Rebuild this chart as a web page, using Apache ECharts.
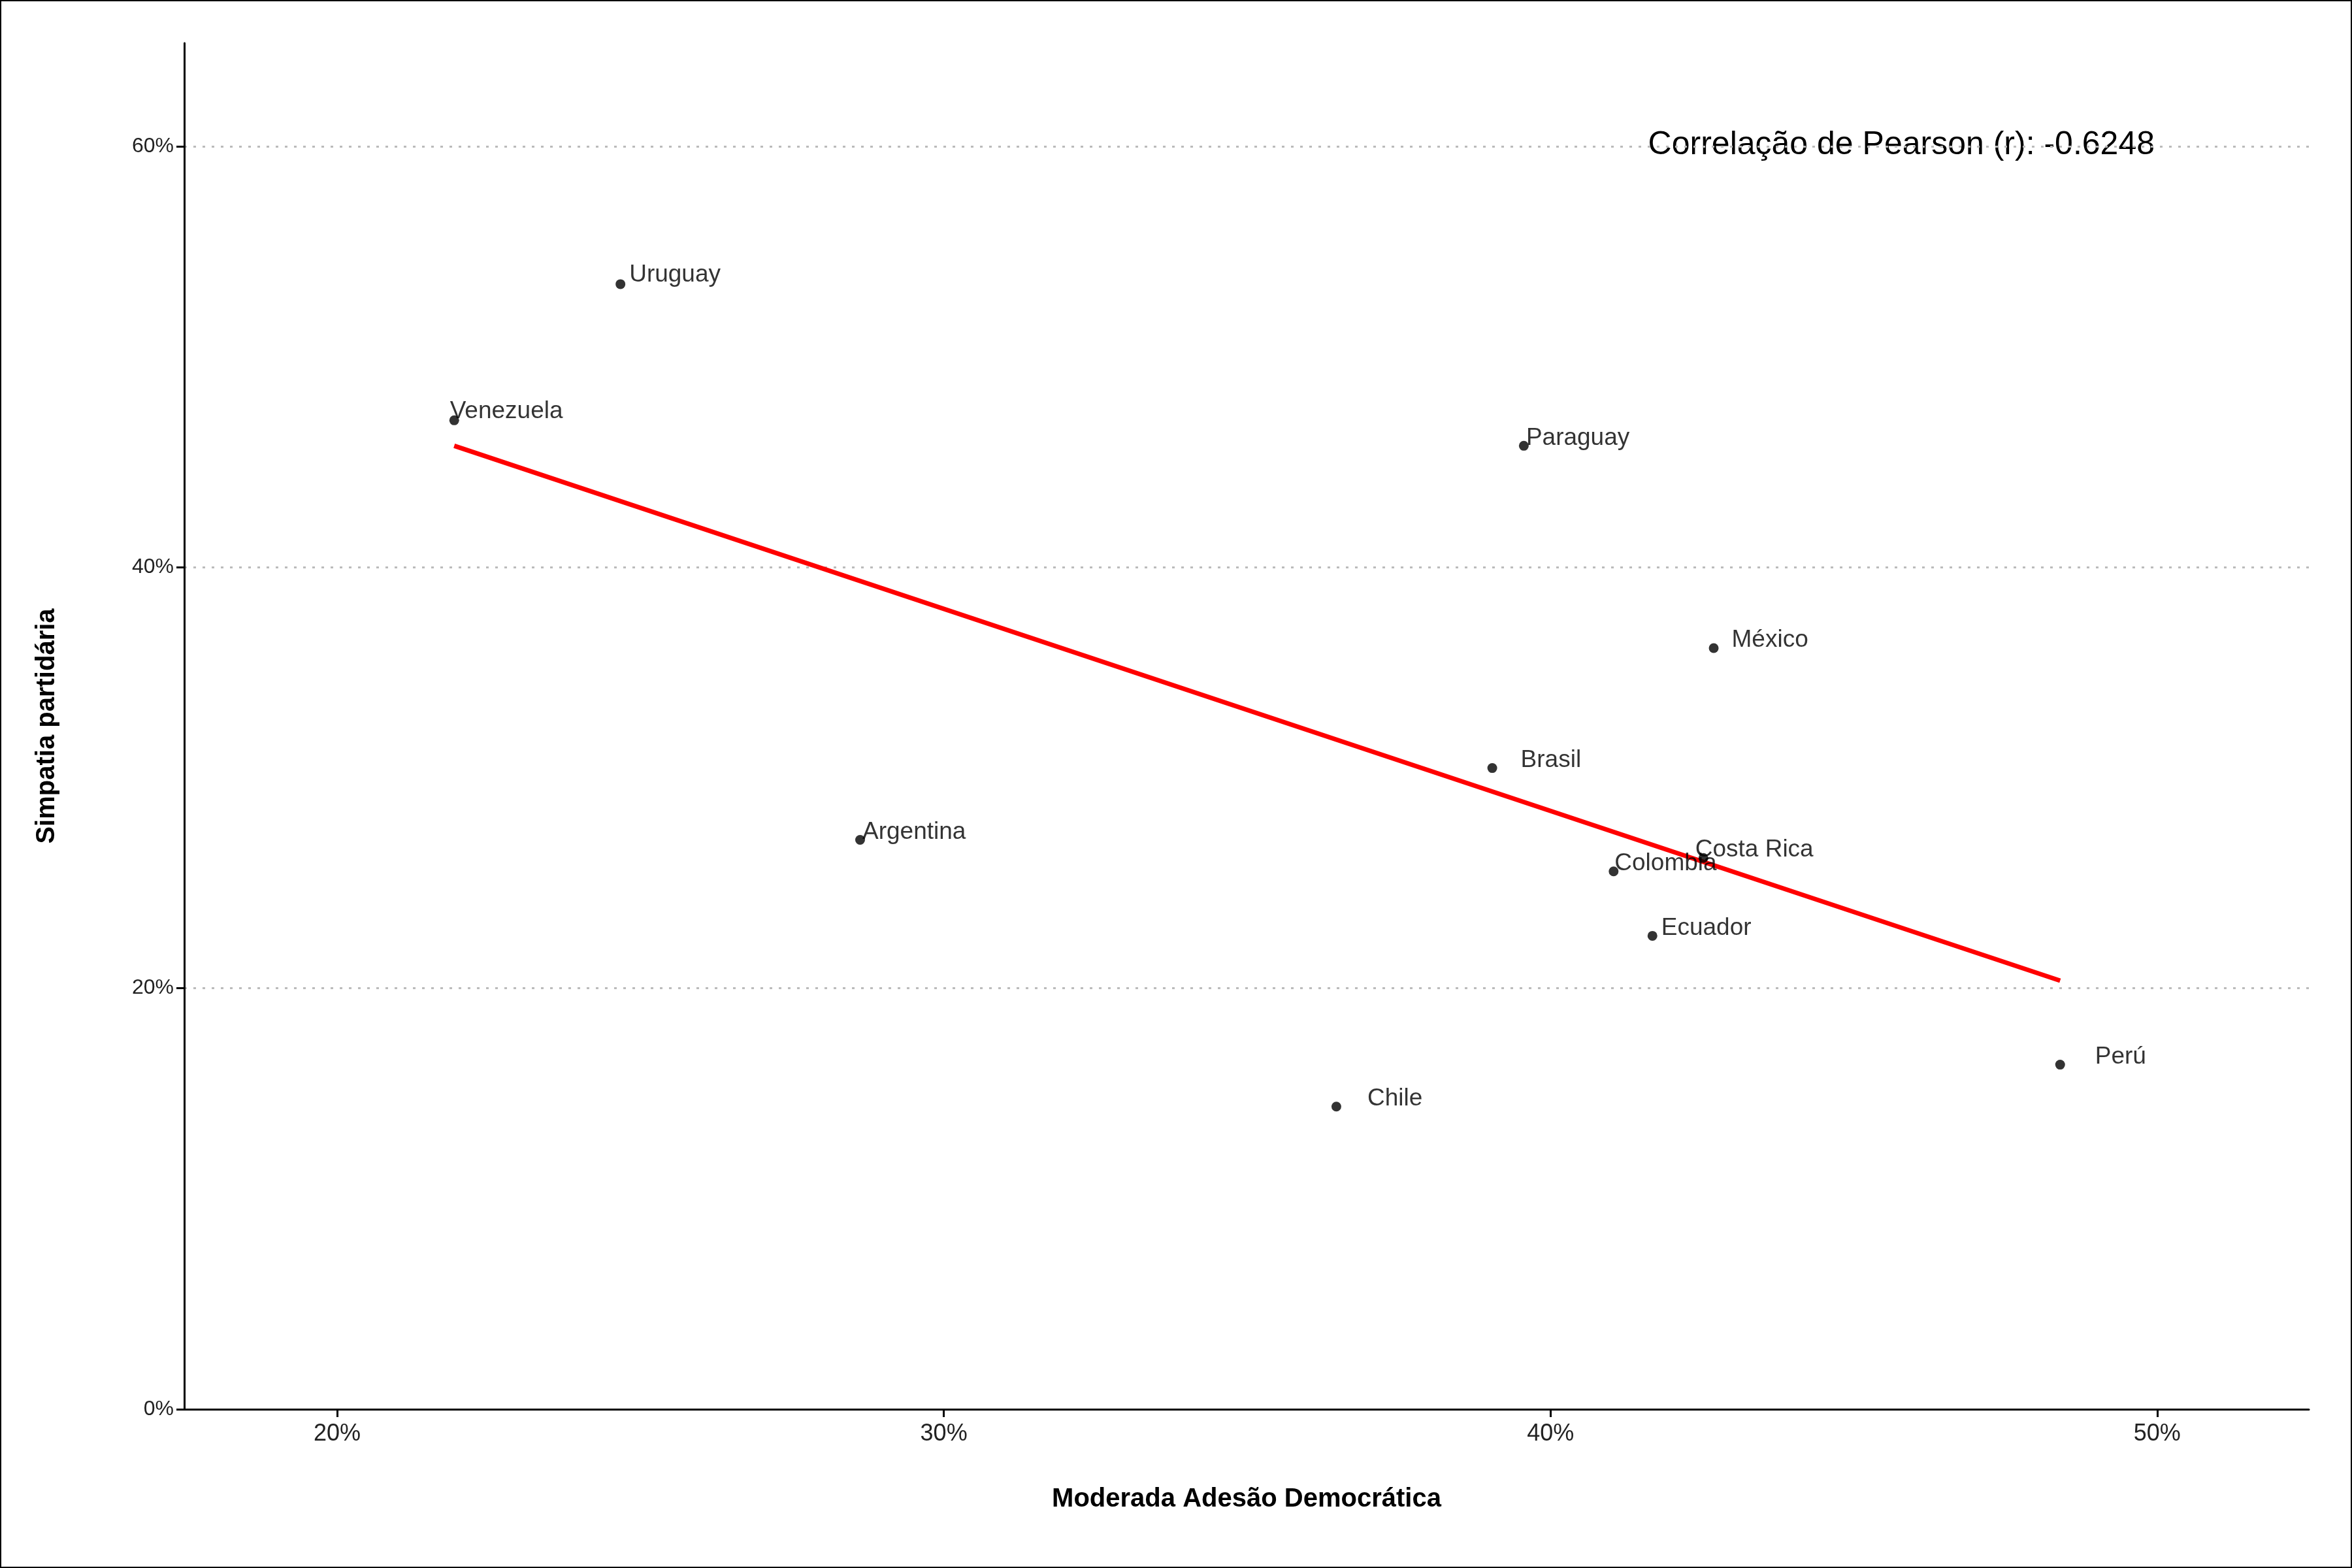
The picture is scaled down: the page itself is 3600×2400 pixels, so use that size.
<!DOCTYPE html>
<html>
<head>
<meta charset="utf-8">
<title>Simpatia partidária</title>
<script src="https://cdn.jsdelivr.net/npm/echarts@6/dist/echarts.min.js"></script>
<style>
  html, body { margin: 0; padding: 0; background: #fff; }
  #main { width: 3596px; height: 2396px; border: 2px solid #000; }
</style>
</head>
<body>
<div id="main"></div>
<script>
var countries = ['Uruguay', 'Venezuela', 'Paraguay', 'México', 'Brasil', 'Argentina',
                 'Costa Rica', 'Colombia', 'Ecuador', 'Chile', 'Perú'];
var adesao   = [24.67, 21.93, 39.56, 42.69, 39.04, 28.62, 42.52, 41.04, 41.68, 36.47, 48.40];
var simpatia = [53.45, 46.98, 45.77, 36.16, 30.46, 27.05, 26.19, 25.55, 22.49, 14.38, 16.37];
// fitted line endpoints
var fitLine = [[21.93, 45.77], [48.40, 20.36]];
var xTicks = [20, 30, 40, 50];
var yTicks = [0, 20, 40, 60];
var pearsonText = 'Correlação de Pearson (r): -0.6248';

// label offsets (px) per country
var labelOffset = {
  'Uruguay': [6, -14], 'Venezuela': [-14, -14], 'Paraguay': [-4, -12],
  'México': [20, -12], 'Brasil': [36, -12], 'Argentina': [-4, -12],
  'Costa Rica': [-20, -12], 'Colombia': [-6, -12], 'Ecuador': [6, -12],
  'Chile': [40, -12], 'Perú': [46, -12]
};

var myChart = echarts.init(document.getElementById('main'));
var font = 'Liberation Sans, Arial, sans-serif';

var points = countries.map(function (c, i) {
  return {
    value: [adesao[i], simpatia[i]],
    name: c,
    label: { offset: labelOffset[c] }
  };
});

var option = {
  animation: false,
  backgroundColor: '#fff',
  grid: { left: 280, right: 64, top: 64, bottom: 241 },
  xAxis: {
    type: 'value', min: 17.48, max: 52.5,
    name: 'Moderada Adesão Democrática', nameLocation: 'middle', nameGap: 118,
    nameTextStyle: { fontFamily: font, fontSize: 40, fontWeight: 'bold', color: '#000' },
    axisLine: { show: true, lineStyle: { color: '#000', width: 3 } },
    axisTick: { show: true, customValues: xTicks, length: 12, lineStyle: { color: '#000', width: 3 } },
    axisLabel: { customValues: xTicks, formatter: '{value}%', fontFamily: font, fontSize: 36, color: '#222', margin: 20 },
    splitLine: { show: false }
  },
  yAxis: {
    type: 'value', min: 0, max: 64.9,
    name: 'Simpatia partidária', nameLocation: 'middle', nameGap: 190,
    nameTextStyle: { fontFamily: font, fontSize: 40, fontWeight: 'bold', color: '#000' },
    axisLine: { show: true, lineStyle: { color: '#000', width: 3 } },
    axisTick: { show: true, customValues: yTicks, length: 12, lineStyle: { color: '#000', width: 3 } },
    axisLabel: { customValues: yTicks, formatter: '{value}%', fontFamily: font, fontSize: 32, color: '#222', margin: 16 },
    splitLine: { show: true, customValues: yTicks, lineStyle: { color: '#bbb', type: [4, 10], width: 3 } }
  },
  series: [{
    type: 'line',
    data: fitLine,
    showSymbol: false,
    lineStyle: { color: '#ff0000', width: 7 },
    z: 1
  }, {
    type: 'scatter',
    data: points,
    symbolSize: 15,
    itemStyle: { color: '#000' },
    label: {
      show: true, position: 'right', distance: 0,
      formatter: '{b}', fontFamily: font, fontSize: 37, color: '#000'
    },
    z: 3
  }],
  graphic: [{
    type: 'text', right: 300, top: 195,
    style: { text: pearsonText, fontFamily: font, fontSize: 50, fill: '#000' }
  }]
};

myChart.setOption(option);
</script>
</body>
</html>
